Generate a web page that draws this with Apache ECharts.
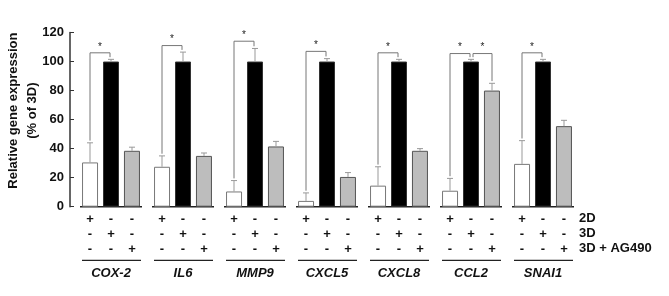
<!DOCTYPE html>
<html><head><meta charset="utf-8">
<script src="https://cdn.jsdelivr.net/npm/echarts@6/dist/echarts.min.js"></script>
<style>html,body{margin:0;padding:0;background:#fff}#c{width:669px;height:296px}</style>
</head><body><div id="c"></div>
<script>
var genes = ['COX-2','IL6','MMP9','CXCL5','CXCL8','CCL2','SNAI1'];
var v2D  = [30.5, 27.5, 10.5, 4, 14.5, 11, 29.5];
var sd2D = [13.5, 7.5, 7.5, 5.5, 13, 8.5, 16];
var v3D  = [100, 100, 100, 100, 100, 100, 100];
var sd3D = [1.5, 6.5, 9, 2, 1.5, 1.5, 1.5];
var vAG  = [38.5, 35, 41.5, 20.5, 38.5, 80, 55.5];
var sdAG = [2.5, 2, 3.5, 3, 1.5, 5, 4];
var rowNames = ['2D', '3D', '3D + AG490'];
var yTicks = [0, 20, 40, 60, 80, 100, 120];
// [gene index, left bar, right bar, bracket height]
var sigPairs = [[0,0,1,106],[1,0,1,111],[2,0,1,114],[3,0,1,107],[4,0,1,106],[5,0,1,105.5],[5,1,2,105.5],[6,0,1,106]];

var PITCH = 21;
var vals = [v2D, v3D, vAG], sds = [sd2D, sd3D, sdAG];
var FONT = 'Liberation Sans, Arial, sans-serif';

var errData = [];
for (var s = 0; s < 3; s++) for (var i = 0; i < genes.length; i++) errData.push([i, vals[s][i], vals[s][i] + sds[s][i], s]);

var chart = echarts.init(document.getElementById('c'));
chart.setOption({
  animation: false,
  grid: {left: 75, right: 90, top: 32.5, bottom: 89.3, containLabel: false, outerBoundsMode: 'none'},
  xAxis: {type: 'category', data: genes,
    axisLine: {show: false}, axisTick: {show: false},
    axisLabel: {margin: 60, fontFamily: FONT, fontWeight: 'bold', fontStyle: 'italic', fontSize: 13, color: '#111'}},
  yAxis: {type: 'value', min: 0, max: 120, interval: 20, offset: 5,
    name: 'Relative gene expression\n(% of 3D)', nameLocation: 'middle', nameGap: 28, nameMoveOverlap: false,
    nameTextStyle: {fontFamily: FONT, fontWeight: 'bold', fontSize: 13, color: '#111', lineHeight: 19, padding: [0, 0, 0, 18]},
    axisLine: {show: true, lineStyle: {color: '#333', width: 1.5}},
    axisTick: {show: true, inside: true, length: 4, lineStyle: {color: '#333'}},
    splitLine: {show: false},
    axisLabel: {margin: 6, fontFamily: FONT, fontWeight: 'bold', fontSize: 13, color: '#111',
      formatter: function (v) { return yTicks.indexOf(v) >= 0 ? String(v) : ''; }}},
  series: [
    {type: 'bar', name: '2D', data: v2D, barWidth: 16, barGap: '31%', itemStyle: {color: '#fff', borderColor: '#777', borderWidth: 1}},
    {type: 'bar', name: '3D', data: v3D, barWidth: 16, barGap: '31%', itemStyle: {color: '#000', borderColor: '#333', borderWidth: 1}},
    {type: 'bar', name: '3D + AG490', data: vAG, barWidth: 16, barGap: '31%', itemStyle: {color: '#bdbdbd', borderColor: '#555', borderWidth: 1}},
    // error bars
    {type: 'custom', data: errData, z: 5, renderItem: function (params, api) {
      var c = api.coord([api.value(0), api.value(2)]);
      var b = api.coord([api.value(0), api.value(1)]);
      var x = c[0] + (api.value(3) - 1) * PITCH;
      var st = {stroke: '#999', lineWidth: 1};
      return {type: 'group', children: [
        {type: 'line', shape: {x1: x, y1: b[1], x2: x, y2: c[1]}, style: st},
        {type: 'line', shape: {x1: x - 3, y1: c[1], x2: x + 3, y2: c[1]}, style: st}
      ]};
    }},
    // baselines + table
    {type: 'custom', data: genes.map(function (g, i) { return [i, 0]; }), clip: false, silent: true, renderItem: function (params, api) {
      var p = api.coord([api.value(0), 0]);
      var cx = p[0];
      var ch = [
        {type: 'line', shape: {x1: cx - 31, y1: p[1], x2: cx + 31, y2: p[1]}, style: {stroke: '#222', lineWidth: 1.5}},
        {type: 'line', shape: {x1: cx - 29, y1: 260.3, x2: cx + 30, y2: 260.3}, style: {stroke: '#222', lineWidth: 1.3}}
      ];
      var rows = [219.3, 234.3, 249.3];
      for (var r = 0; r < 3; r++) for (var s = 0; s < 3; s++) {
        ch.push({type: 'text', x: cx + (s - 1) * PITCH, y: rows[r], style: {text: r === s ? '+' : '-', fill: '#111',
          font: 'bold 13px ' + FONT, textAlign: 'center', textVerticalAlign: 'middle'}});
      }
      return {type: 'group', children: ch};
    }},
    // significance brackets
    {type: 'custom', data: sigPairs, clip: false, silent: true, z: 6, renderItem: function (params, api) {
      var g = api.value(0), a = api.value(1), b = api.value(2), h = api.value(3);
      var top = api.coord([g, h]);
      var la = api.coord([g, vals[a][g] + sds[a][g] + 1.5]);
      var lb = api.coord([g, vals[b][g] + sds[b][g] + 1.5]);
      var xa = top[0] + (a - 1) * PITCH + (a === 1 ? 2 : 0);
      var xb = top[0] + (b - 1) * PITCH + (b === 1 ? -1 : 0);
      var st = {stroke: '#777', lineWidth: 1, fill: null};
      return {type: 'group', children: [
        {type: 'polyline', shape: {points: [[xa, la[1]], [xa, top[1]], [xb, top[1]], [xb, lb[1]]]}, style: st},
        {type: 'text', x: (xa + xb) / 2, y: top[1] - 1, style: {text: '*', fill: '#222', font: '10px ' + FONT, textAlign: 'center', textVerticalAlign: 'bottom'}}
      ]};
    }}
  ],
  graphic: rowNames.map(function (n, r) {
    return {type: 'text', left: 579, top: [219.3, 234.3, 249.3][r] - 7.5,
      style: {text: n, fill: '#111', font: 'bold 13px ' + FONT}};
  })
});
</script></body></html>
